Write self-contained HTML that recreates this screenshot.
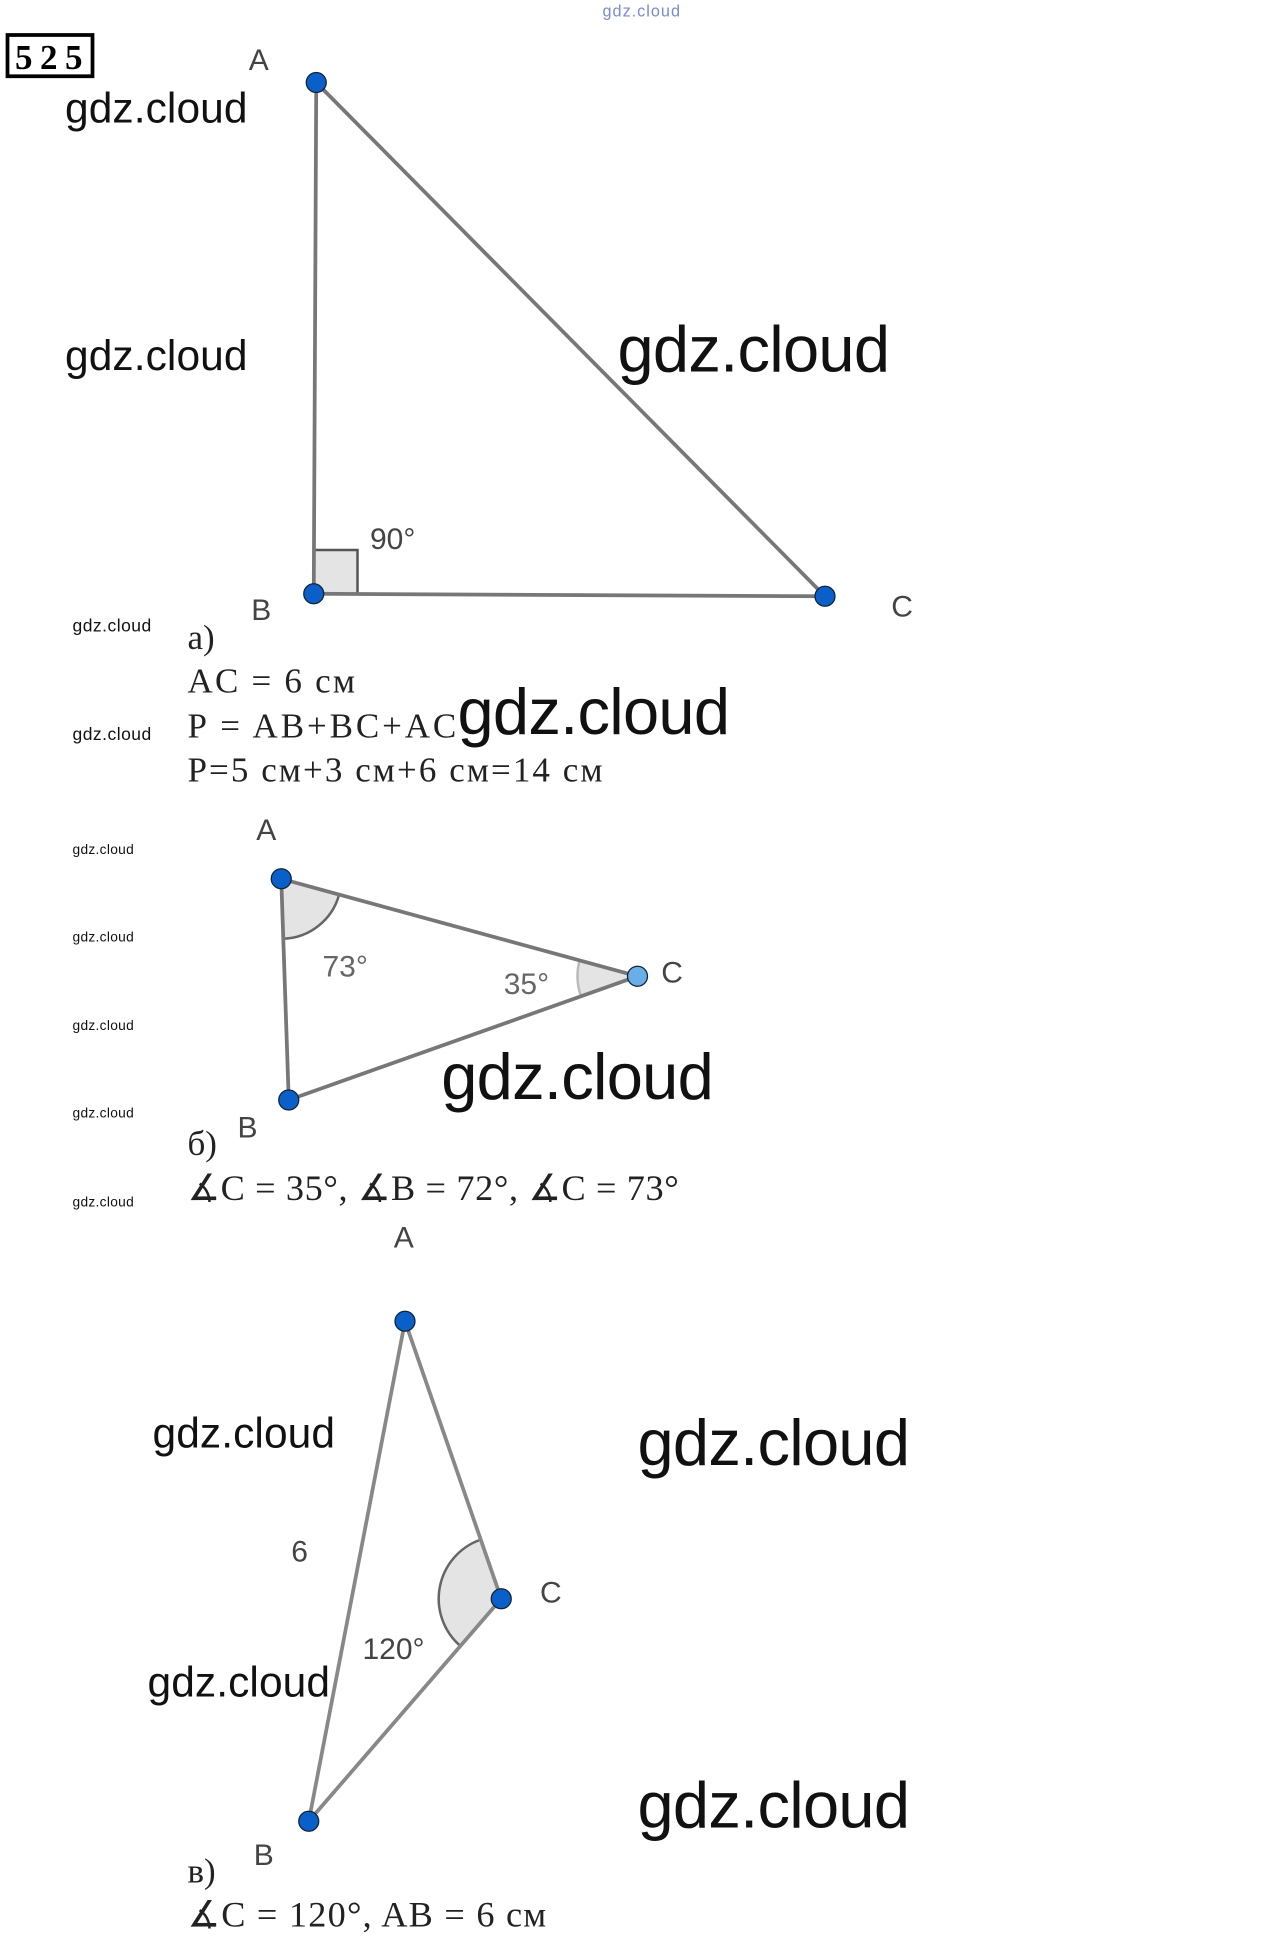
<!DOCTYPE html>
<html><head><meta charset="utf-8"><style>
html,body{margin:0;padding:0;background:#fff;}
svg{display:block;}
.w{font-family:"Liberation Sans",sans-serif;fill:#111;}
.l{font-family:"Liberation Sans",sans-serif;fill:#444;}
.s{font-family:"Liberation Serif","DejaVu Serif",serif;fill:#222;}
</style></head><body>
<svg width="1280" height="1957" viewBox="0 0 1024 1565.6" xmlns="http://www.w3.org/2000/svg">
<rect x="0" y="0" width="1024" height="1565.6" fill="#fff"/>
<text x="482" y="13" class="w" font-size="13" textLength="62" style="fill:#7a8ad0">gdz.cloud</text>
<rect x="6" y="28" width="68" height="33" fill="none" stroke="#000" stroke-width="3"/>
<text x="12" y="55" class="s" font-size="28" font-weight="bold" style="fill:#000" textLength="54">525</text>

<!-- a -->
<rect x="251" y="440" width="35" height="35" fill="#e4e4e4" stroke="#555" stroke-width="2"/>
<g stroke="#777" stroke-width="3" fill="none">
<line x1="253" y1="66" x2="251" y2="475"/>
<line x1="253" y1="66" x2="660" y2="477"/>
<line x1="251" y1="475" x2="660" y2="477"/>
</g>
<g fill="#0a5fc8" stroke="#123" stroke-width="1">
<circle cx="253" cy="66" r="8"/><circle cx="251" cy="475" r="8"/><circle cx="660" cy="477" r="8"/>
</g>
<text x="199" y="56" class="l" font-size="24">A</text>
<text x="201" y="496" class="l" font-size="24">B</text>
<text x="713" y="493" class="l" font-size="24">C</text>
<text x="296" y="439" class="l" font-size="24">90°</text>
<text x="150" y="519" class="s" font-size="28">a)</text>
<text x="150" y="554" class="s" font-size="28" textLength="134">AC = 6 см</text>
<text x="150" y="590" class="s" font-size="28" textLength="215">P = AB+BC+AC</text>
<text x="150" y="625" class="s" font-size="28" textLength="332">P=5 см+3 см+6 см=14 см</text>

<!-- b -->
<path d="M225,703 L271.3,715.7 A48,48 0 0 1 226.6,751 Z" fill="#e4e4e4" stroke="#666" stroke-width="2"/>
<path d="M510,781 L463.7,768.3 A48,48 0 0 0 464.8,797 Z" fill="#e4e4e4" stroke="#bbb" stroke-width="2"/>
<g stroke="#777" stroke-width="3" fill="none">
<line x1="225" y1="703" x2="231" y2="880"/>
<line x1="225" y1="703" x2="510" y2="781"/>
<line x1="231" y1="880" x2="510" y2="781"/>
</g>
<g fill="#0a5fc8" stroke="#123" stroke-width="1">
<circle cx="225" cy="703" r="8"/><circle cx="231" cy="880" r="8"/><circle cx="510" cy="781" r="8" fill="#6aaee8"/>
</g>
<text x="205" y="672" class="l" font-size="24">A</text>
<text x="190" y="910" class="l" font-size="24">B</text>
<text x="529" y="786" class="l" font-size="24">C</text>
<text x="258" y="781" class="l" font-size="24" style="fill:#666">73°</text>
<text x="403" y="795" class="l" font-size="24" style="fill:#666">35°</text>
<text x="150" y="924" class="s" font-size="28">б)</text>
<text x="150" y="960" class="s" font-size="29" textLength="393">∡C = 35°, ∡B = 72°, ∡C = 73°</text>

<!-- c -->
<path d="M401,1279 L384.6,1231.7 A50,50 0 0 0 368.3,1316.8 Z" fill="#e4e4e4" stroke="#666" stroke-width="2"/>
<g stroke="#888" stroke-width="3" fill="none">
<line x1="324" y1="1057" x2="247" y2="1457"/>
<line x1="324" y1="1057" x2="401" y2="1279"/>
<line x1="247" y1="1457" x2="401" y2="1279"/>
</g>
<g fill="#0a5fc8" stroke="#123" stroke-width="1">
<circle cx="324" cy="1057" r="8"/><circle cx="247" cy="1457" r="8"/><circle cx="401" cy="1279" r="8"/>
</g>
<text x="315" y="998" class="l" font-size="24">A</text>
<text x="432" y="1282" class="l" font-size="24">C</text>
<text x="203" y="1492" class="l" font-size="24">B</text>
<text x="233" y="1249" class="l" font-size="24">6</text>
<text x="290" y="1327" class="l" font-size="24">120°</text>
<text x="150" y="1506" class="s" font-size="28">в)</text>
<text x="150" y="1541" class="s" font-size="29" textLength="287">∡C = 120°, AB = 6 см</text>

<!-- watermarks -->
<text x="52" y="98" class="w" font-size="34" textLength="146">gdz.cloud</text>
<text x="52" y="296" class="w" font-size="34" textLength="146">gdz.cloud</text>
<text x="494" y="297" class="w" font-size="52" textLength="218">gdz.cloud</text>
<text x="366" y="587" class="w" font-size="52" textLength="218">gdz.cloud</text>
<text x="353" y="879" class="w" font-size="52" textLength="218">gdz.cloud</text>
<text x="510" y="1172" class="w" font-size="52" textLength="218">gdz.cloud</text>
<text x="510" y="1462" class="w" font-size="52" textLength="218">gdz.cloud</text>
<text x="122" y="1158" class="w" font-size="34" textLength="146">gdz.cloud</text>
<text x="118" y="1357" class="w" font-size="34" textLength="146">gdz.cloud</text>
<text x="58" y="505" class="w" font-size="14" textLength="63">gdz.cloud</text>
<text x="58" y="592" class="w" font-size="14" textLength="63">gdz.cloud</text>
<text x="58" y="683" class="w" font-size="11" textLength="49">gdz.cloud</text>
<text x="58" y="753" class="w" font-size="11" textLength="49">gdz.cloud</text>
<text x="58" y="824" class="w" font-size="11" textLength="49">gdz.cloud</text>
<text x="58" y="894" class="w" font-size="11" textLength="49">gdz.cloud</text>
<text x="58" y="965" class="w" font-size="11" textLength="49">gdz.cloud</text>
</svg>
</body></html>
